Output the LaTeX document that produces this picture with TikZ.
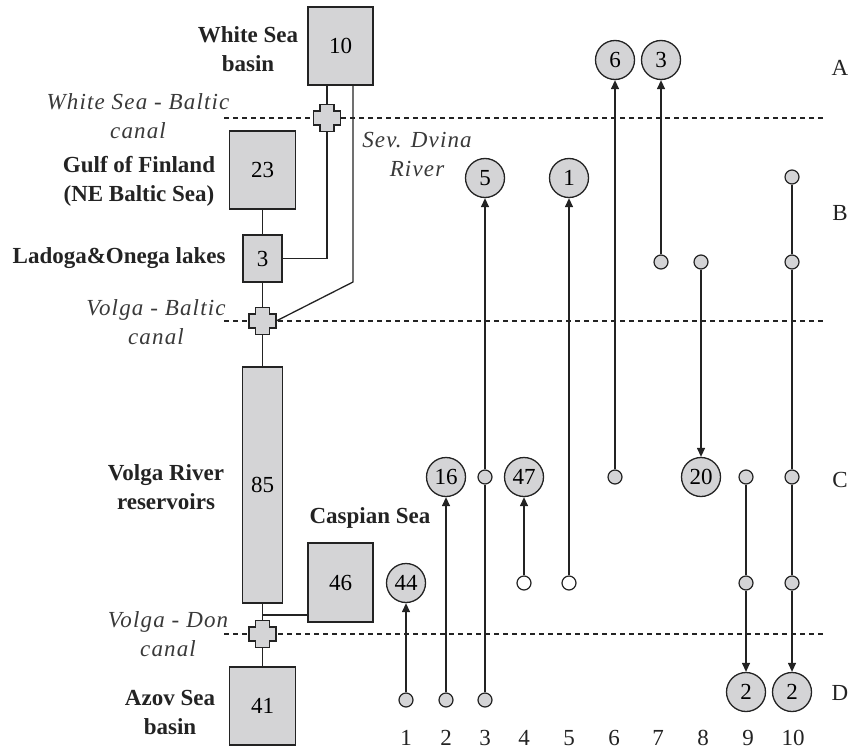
\documentclass[tikz,border=0pt]{standalone}
\usepackage{fontspec}
\setmainfont{Liberation Serif}
\usepackage{tikz}
\usetikzlibrary{arrows.meta, positioning}

\definecolor{basin}{RGB}{212,212,214}
\definecolor{ink}{RGB}{35,35,35}

\begin{document}
\begin{tikzpicture}[
    x=1pt, y=-1pt,
    font=\fontsize{23}{29}\selectfont,
    sea/.style={draw=ink, line width=1.3pt, fill=basin, inner sep=0pt, align=center},
    sealabel/.style={font=\fontsize{23}{29}\selectfont\bfseries, align=center, text=ink},
    canallabel/.style={font=\fontsize{23}{29}\selectfont\itshape\addfontfeature{LetterSpace=5}, align=center, text=ink!90},
    lock/.style={minimum size=27pt, inner sep=0pt},
    lockmark/.pic={\filldraw[fill=basin, draw=ink, line width=1.3pt] (-7,-13.5) -- (7,-13.5) -- (7,-7) -- (13.5,-7) -- (13.5,7) -- (7,7) -- (7,13.5) -- (-7,13.5) -- (-7,7) -- (-13.5,7) -- (-13.5,-7) -- (-7,-7) -- cycle;},
    pool/.style={circle, draw=ink, line width=1.3pt, fill=basin, minimum size=39pt, inner sep=0pt},
    site/.style={circle, draw=ink, line width=1.2pt, fill=basin, minimum size=14pt, inner sep=0pt},
    link/.style={draw=ink, line width=1.3pt},
    arrow/.style={link, -{Triangle[length=9pt, width=8pt]}},
    border/.style={draw=ink, line width=1.1pt, dash pattern=on 5pt off 4pt}
]
\useasboundingbox (0,0) rectangle (853,749);

% zone borders
\draw[border] (224,118) -- (826,118);
\draw[border] (224,321) -- (826,321);
\draw[border] (224,634) -- (826,634);

% basins
\node[sea, minimum width=65pt, minimum height=78pt] (white) at (340.5,46) {10};
\node[sea, minimum width=66pt, minimum height=78pt] (finland) at (262.5,170) {23};
\node[sea, minimum width=39pt, minimum height=47pt] (ladoga) at (262.5,258.5) {3};
\node[sea, minimum width=40pt, minimum height=236pt] (volga) at (262.5,485) {85};
\node[sea, minimum width=65pt, minimum height=79pt] (caspian) at (340.5,582.5) {46};
\node[sea, minimum width=66pt, minimum height=78pt] (azov) at (262.5,706) {41};

\node[sealabel] (whitelbl) at (248,49) {White Sea\\basin};
\node[sealabel] (finlandlbl) at (139,181) {Gulf of Finland\\(NE Baltic Sea)};
\node[sealabel, anchor=east] (ladogalbl) at (229,258) {Ladoga\&Onega lakes};
\node[sealabel] (volgalbl) at (166,487) {Volga River\\reservoirs};
\node[sealabel] (caspianlbl) at (370,518) {Caspian Sea};
\node[sealabel] (azovlbl) at (170,712) {Azov Sea\\basin};

% canals
\node[lock] (wsb) at (327,118) {};
\node[lock] (vbl) at (262.5,321) {};
\node[lock] (vdl) at (262.5,634) {};
\coordinate (dvina) at (353,282);
\coordinate (vdfork) at (262.5,615);

\node[canallabel] (wsblbl) at (138,116) {White Sea - Baltic\\canal};
\node[canallabel] (vbllbl) at (156,322) {Volga - Baltic\\canal};
\node[canallabel] (vdllbl) at (168,634) {Volga - Don\\canal};
\node[canallabel] (dvinalbl) at (417,154) {Sev. Dvina\\River};

\draw[link] (white.south -| wsb) -- (wsb);
\draw[link] (wsb) |- (ladoga);
\draw[link] (white.south -| dvina) -- (dvina) -- (vbl.east);
\draw[link] (finland) -- (ladoga);
\draw[link] (ladoga) -- (vbl);
\draw[link] (vbl) -- (volga);
\draw[link] (volga) -- (vdl);
\draw[link] (vdfork) -- (vdfork -| caspian.west);
\draw[link] (vdl) -- (azov);

\pic at (wsb) {lockmark};
\pic at (vbl) {lockmark};
\pic at (vdl) {lockmark};

% species per column
\node[pool] (p6) at (615,60) {6};
\node[pool] (p3) at (661,60) {3};
\node[pool] (p5) at (485,178) {5};
\node[pool] (p1) at (569,178) {1};
\node[pool] (p16) at (446,477) {16};
\node[pool] (p47) at (524,477) {47};
\node[pool] (p20) at (701,477) {20};
\node[pool] (p44) at (406,583) {44};
\node[pool] (p2a) at (746,692) {2};
\node[pool] (p2b) at (792,692) {2};

\node[site] (s1) at (406,700) {};
\node[site] (s2) at (446,700) {};
\node[site] (s3d) at (485,700) {};
\node[site] (s3c) at (485,477) {};
\node[site, fill=white] (s4) at (524,583) {};
\node[site, fill=white] (s5) at (569,583) {};
\node[site] (s6) at (615,477) {};
\node[site] (s7) at (661,262) {};
\node[site] (s8) at (701,262) {};
\node[site] (s9c) at (746,477) {};
\node[site] (s9e) at (746,583) {};
\node[site] (s10a) at (792,177) {};
\node[site] (s10b) at (792,262) {};
\node[site] (s10c) at (792,477) {};
\node[site] (s10e) at (792,583) {};

\draw[arrow] (s1) -- (p44);
\draw[arrow] (s2) -- (p16);
\draw[link] (s3d) -- (s3c);
\draw[arrow] (s3c) -- (p5);
\draw[arrow] (s4) -- (p47);
\draw[arrow] (s5) -- (p1);
\draw[arrow] (s6) -- (p6);
\draw[arrow] (s7) -- (p3);
\draw[arrow] (s8) -- (p20);
\draw[link] (s9c) -- (s9e);
\draw[arrow] (s9e) -- (p2a);
\draw[link] (s10a) -- (s10b) -- (s10c) -- (s10e);
\draw[arrow] (s10e) -- (p2b);

% column numbers and zones
\foreach \x [count=\i] in {406,446,485,524,569,614,658,703,748,793}
    \node[text=ink] (col\i) at (\x,738) {\i};
\foreach \z/\y in {A/68,B/213,C/480,D/693}
    \node[text=ink] (zone\z) at (840,\y) {\z};
\end{tikzpicture}
\end{document}
